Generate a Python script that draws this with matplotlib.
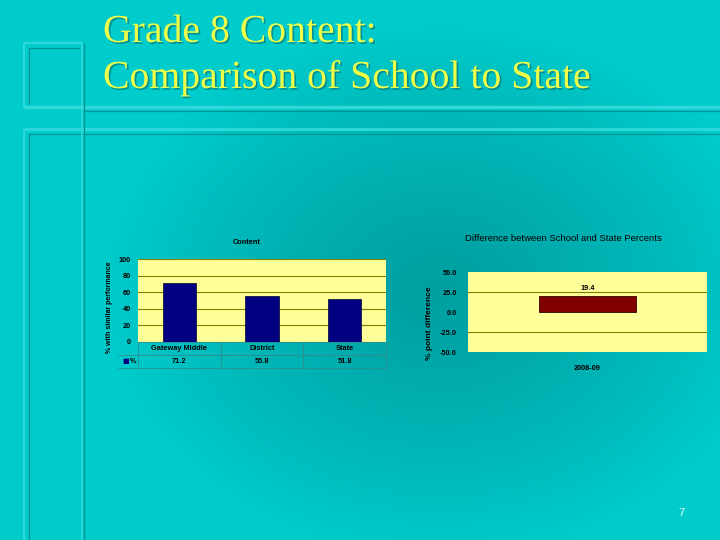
import numpy as np
import matplotlib
matplotlib.use("Agg")
import matplotlib.pyplot as plt
import matplotlib.patheffects as pe
from matplotlib.ticker import FixedLocator, FuncFormatter

# ---------------- data ----------------
title_lines = ["Grade 8 Content:", "Comparison of School to State"]
categories = ["Gateway Middle", "District", "State"]
percents = [71.2, 55.8, 51.8]
series_name = "%"
left_title = "Content"
left_ylabel = "% with similar performance"
left_yticks = [0, 20, 40, 60, 80, 100]

diff_years = ["2008-09"]
diff_values = [19.4]
right_title = "Difference between School and State Percents"
right_ylabel = "% point difference"
right_yticks = [-50, -25, 0, 25, 50]
page_number = "7"

# ---------------- style ----------------
W, H = 720, 540
fig = plt.figure(figsize=(7.2, 5.4), dpi=100)

# background gradient
bg = fig.add_axes([0, 0, 1, 1])
yy, xx = np.mgrid[0:H, 0:W]
d = np.sqrt(((xx - 440) / 340.0) ** 2 + ((yy - 290) / 270.0) ** 2)
t = np.clip(d, 0, 1) ** 1.3
center = np.array([0, 160, 162]) / 255.0
edge = np.array([0, 204, 204]) / 255.0
img = center[None, None, :] + (edge - center)[None, None, :] * t[..., None]
bg.imshow(img, extent=[0, W, H, 0], aspect="auto", interpolation="bilinear")
bg.set_xlim(0, W)
bg.set_ylim(H, 0)
bg.axis("off")

light = "#2FD9D9"
dark = "#009494"
deco = [
    # (x0, x1, y0, y1, color, lw)
    (24, 82, 43, 43, light, 1.5),
    (24, 24, 43, 108, light, 1.5),
    (29, 80, 48, 48, dark, 0.9),
    (29, 29, 48, 104, dark, 0.9),
    (24, 720, 107, 107, light, 2.5),
    (83, 720, 110.5, 110.5, dark, 0.9),
    (24, 720, 129, 129, light, 2.0),
    (29, 720, 133.5, 133.5, dark, 0.9),
    (24, 24, 129, 540, light, 1.5),
    (29, 29, 133, 540, dark, 0.9),
    (82, 82, 43, 540, light, 1.2),
    (83.5, 83.5, 43, 540, dark, 0.9),
]
for x0, x1, y0, y1, c, lw in deco:
    bg.plot([x0, x1], [y0, y1], color=c, lw=lw, solid_capstyle="butt")

# slide title
ycol = "#EEFF4A"
shadow = [pe.withSimplePatchShadow(offset=(1.2, -1.2), shadow_rgbFace="#006A6A", alpha=0.6)]
for i, line in enumerate(title_lines):
    fig.text(103 / W, 1 - (42 + 46 * i) / H, line, fontsize=28.6,
             family="Liberation Serif", color=ycol, va="baseline", ha="left",
             path_effects=shadow)

fig.text(681 / W, 1 - 513 / H, page_number, fontsize=8, color="#E8FFFF",
         ha="center", va="center", family="Liberation Sans")

small = dict(family="Liberation Sans", fontweight="bold", fontsize=5.3)
plot_bg = "#FFFF99"
grid_c = "#808000"

# ---------------- left chart ----------------
lx0, lx1, ly0, ly1 = 138, 386, 259, 342
axL = fig.add_axes([lx0 / W, 1 - ly1 / H, (lx1 - lx0) / W, (ly1 - ly0) / H])
axL.set_facecolor(plot_bg)
x = np.arange(len(categories))
axL.bar(x, percents, width=0.4, color="#000080", edgecolor="#000030", lw=0.5, zorder=3)
axL.set_xlim(-0.5, len(categories) - 0.5)
axL.set_ylim(0, 100)
axL.yaxis.set_major_locator(FixedLocator(left_yticks))
axL.set_xticks([])
axL.grid(axis="y", color=grid_c, lw=0.8, zorder=1)
for s in axL.spines.values():
    s.set_visible(False)
axL.tick_params(axis="y", length=0, pad=5)
for lab in axL.get_yticklabels():
    lab.set(**small)
axL.set_ylabel(left_ylabel, family="Liberation Sans", fontweight="bold", fontsize=5)
axL.yaxis.set_label_coords(-0.10, 0.42)
axL.text((247 - lx0) / (lx1 - lx0), (ly1 - 242) / (ly1 - ly0), left_title,
         transform=axL.transAxes, ha="center", va="center", **small)

# data table (first column = legend key)
rowlab_w = (lx0 - 118) / (lx1 - lx0)
th = 26 / (ly1 - ly0)
n = len(categories)
tbl = axL.table(cellText=[[""] + [f"{v:.1f}" for v in percents]],
                colLabels=[""] + categories,
                colWidths=[rowlab_w] + [1 / n] * n, cellLoc="center",
                bbox=[-rowlab_w, -th, 1 + rowlab_w, th])
tbl.auto_set_font_size(False)
tbl.set_fontsize(5.3)
for (r, c), cell in tbl.get_celld().items():
    cell.set_facecolor("none")
    cell.set_edgecolor("#2A9090")
    cell.set_linewidth(0.6)
    cell.get_text().set(family="Liberation Sans", fontweight="bold")
    if r == 0 and c == 0:
        cell.set_edgecolor("none")
    if r == 1 and c == 0:
        cell.visible_edges = "BT"
axL.text(-rowlab_w + 4 / (lx1 - lx0), -th * 0.75, "■", transform=axL.transAxes,
         color="#000080", fontsize=5, va="center", ha="left")
axL.text(-rowlab_w + 12 / (lx1 - lx0), -th * 0.75, series_name, transform=axL.transAxes,
         va="center", ha="left", **small)

# ---------------- right chart ----------------
rx0, rx1, ry0, ry1 = 468, 707, 272, 352
axR = fig.add_axes([rx0 / W, 1 - ry1 / H, (rx1 - rx0) / W, (ry1 - ry0) / H])
axR.set_facecolor(plot_bg)
xr = np.arange(len(diff_years))
bars = axR.bar(xr, diff_values, width=0.406, color="#800000", edgecolor="#300000",
               lw=0.6, zorder=3)
axR.bar_label(bars, labels=[f"{v:.1f}" for v in diff_values], padding=3, **small)
axR.set_xlim(-0.5, len(diff_years) - 0.5)
axR.set_ylim(-50, 50)
axR.yaxis.set_major_locator(FixedLocator(right_yticks))
axR.yaxis.set_major_formatter(FuncFormatter(lambda v, p: f"{v:.1f}" if v != 0 else "0.0"))
axR.set_xticks(xr)
axR.set_xticklabels(diff_years)
for s in axR.spines.values():
    s.set_visible(False)
for yv in right_yticks:
    if yv not in (0, right_yticks[0], right_yticks[-1]):
        axR.axhline(yv, color=grid_c, lw=0.8, zorder=1)
axR.tick_params(axis="y", length=0, pad=8)
axR.tick_params(axis="x", length=0, pad=9)
for lab in axR.get_yticklabels() + axR.get_xticklabels():
    lab.set(**small)
axR.set_ylabel(right_ylabel, family="Liberation Sans", fontweight="bold", fontsize=6)
axR.yaxis.set_label_coords(-0.146, 0.36)
axR.text((563 - rx0) / (rx1 - rx0), (ry1 - 238) / (ry1 - ry0), right_title,
         transform=axR.transAxes, ha="center", va="center",
         family="Liberation Sans", fontsize=6.8)

fig.savefig("out.png", dpi=100)
